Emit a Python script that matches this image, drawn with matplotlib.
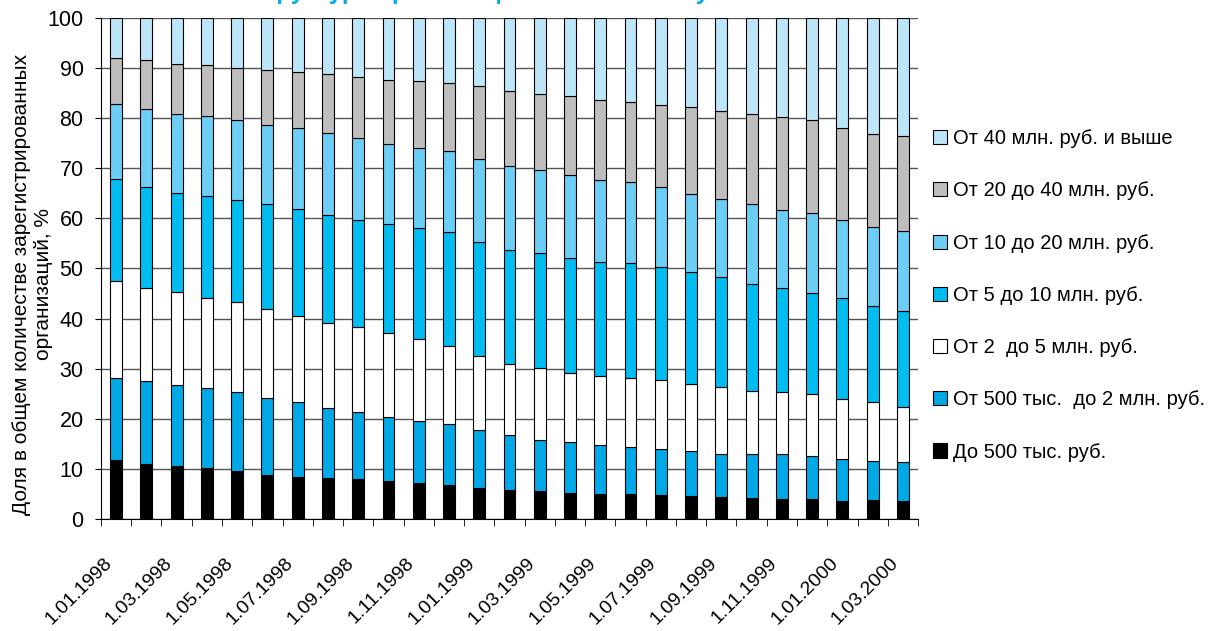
import numpy as np
import matplotlib
matplotlib.use("Agg")
import matplotlib.pyplot as plt
import matplotlib.transforms as mtransforms

plt.rcParams['font.family'] = ['Liberation Sans', 'DejaVu Sans']

# dates (1st of each month, Jan 1998 - Mar 2000)
dates = ["1.01.1998", "1.02.1998", "1.03.1998", "1.04.1998", "1.05.1998", "1.06.1998",
         "1.07.1998", "1.08.1998", "1.09.1998", "1.10.1998", "1.11.1998", "1.12.1998",
         "1.01.1999", "1.02.1999", "1.03.1999", "1.04.1999", "1.05.1999", "1.06.1999",
         "1.07.1999", "1.08.1999", "1.09.1999", "1.10.1999", "1.11.1999", "1.12.1999",
         "1.01.2000", "1.02.2000", "1.03.2000"]

# shares of organisations by charter capital, %
upto_500k = [11.7, 10.9, 10.6, 10.1, 9.5, 8.8, 8.4, 8.1, 7.9, 7.5, 7.2, 6.7, 6.2, 5.8,
             5.5, 5.1, 4.9, 4.9, 4.7, 4.5, 4.3, 4.1, 3.9, 3.9, 3.6, 3.8, 3.5]
k500_2m = [16.5, 16.7, 16.1, 16.1, 15.8, 15.3, 15.0, 14.1, 13.4, 12.8, 12.4, 12.2, 11.6, 11.0,
           10.3, 10.2, 9.8, 9.5, 9.3, 9.0, 8.7, 8.9, 9.1, 8.7, 8.4, 7.8, 7.9]
m2_5 = [19.4, 18.6, 18.6, 18.0, 18.0, 17.9, 17.1, 16.9, 17.0, 16.9, 16.3, 15.6, 14.8, 14.2,
        14.3, 13.9, 13.8, 13.8, 13.8, 13.5, 13.3, 12.6, 12.3, 12.3, 12.0, 11.7, 11.0]
m5_10 = [20.2, 20.0, 19.8, 20.2, 20.3, 20.8, 21.3, 21.6, 21.4, 21.7, 22.2, 22.8, 22.6, 22.7,
         22.9, 22.8, 22.8, 22.9, 22.5, 22.3, 22.0, 21.4, 20.8, 20.2, 20.1, 19.3, 19.2]
m10_20 = [15.0, 15.6, 15.8, 16.0, 16.0, 15.8, 16.2, 16.3, 16.4, 16.0, 15.9, 16.1, 16.6, 16.8,
          16.6, 16.6, 16.3, 16.1, 15.9, 15.6, 15.6, 15.8, 15.5, 16.0, 15.6, 15.7, 15.8]
m20_40 = [9.2, 9.8, 10.0, 10.3, 10.5, 11.0, 11.2, 11.9, 12.2, 12.8, 13.4, 13.6, 14.6, 15.0,
          15.3, 15.8, 16.0, 16.1, 16.5, 17.4, 17.6, 18.1, 18.7, 18.5, 18.4, 18.5, 19.0]
m40_plus = [8.0, 8.4, 9.1, 9.3, 9.9, 10.4, 10.8, 11.1, 11.7, 12.3, 12.6, 13.0, 13.6, 14.5,
            15.1, 15.6, 16.4, 16.7, 17.3, 17.7, 18.5, 19.1, 19.7, 20.4, 21.9, 23.2, 23.6]

series = [upto_500k, k500_2m, m2_5, m5_10, m10_20, m20_40, m40_plus]
labels = ["До 500 тыс. руб.", "От 500 тыс.  до 2 млн. руб.", "От 2  до 5 млн. руб.",
          "От 5 до 10 млн. руб.", "От 10 до 20 млн. руб.", "От 20 до 40 млн. руб.",
          "От 40 млн. руб. и выше"]
colors = ["#000000", "#00A9E6", "#FFFFFF", "#00BCF0", "#6CCEF4", "#BEBEBE", "#BDE5F8"]

fig = plt.figure(figsize=(12.28, 6.31), dpi=100)
ax = fig.add_axes([0.0822, 0.1775, 0.6654, 0.794])

x = np.arange(len(dates))
bottom = np.zeros(len(dates))
handles = []
for vals, lab, col in zip(series, labels, colors):
    b = ax.bar(x, vals, 0.39, bottom=bottom, color=col, edgecolor="black",
               linewidth=0.8, label=lab, zorder=3)
    handles.append(b)
    bottom += np.array(vals)

ax.set_xlim(-0.5, len(dates) - 0.5)
ax.set_ylim(0, 100)
ax.set_yticks(np.arange(0, 101, 10))
ax.yaxis.grid(True, color="#555555", linewidth=1, zorder=0)
ax.tick_params(axis="y", direction="out", length=4.5, labelsize=15.5, pad=8)

ax.set_xticks(x[::2])
ax.set_xticklabels(dates[::2], rotation=45, ha="right", va="center",
                   rotation_mode="anchor", fontsize=14)
ax.tick_params(axis="x", which="major", length=0, pad=30)
shift = mtransforms.ScaledTranslation(-0.07, 0, fig.dpi_scale_trans)
for t in ax.get_xticklabels():
    t.set_transform(t.get_transform() + shift)
ax.set_xticks(np.arange(-0.5, len(dates)), minor=True)
ax.tick_params(axis="x", which="minor", direction="out", length=5)

for s in ["top", "right"]:
    ax.spines[s].set_visible(False)

fig.text(32.5 / 1228, 0.55, "Доля в общем количестве зарегистрированных\nорганизаций, %",
         fontsize=15, rotation=90, ha="center", va="center", multialignment="center")

fig.text(0.48, 1.002, "Структура организаций по величине уставного капитала",
         fontsize=17.5, fontweight="bold", color="#00AEEF", ha="center", va="baseline")

fig.legend(handles[::-1], labels[::-1], loc="upper left", bbox_to_anchor=(0.745, 0.824),
           frameon=False, fontsize=14.5, handlelength=0.7, handleheight=0.7,
           handletextpad=0.3, labelspacing=1.65)

fig.savefig("out.png", dpi=100)
